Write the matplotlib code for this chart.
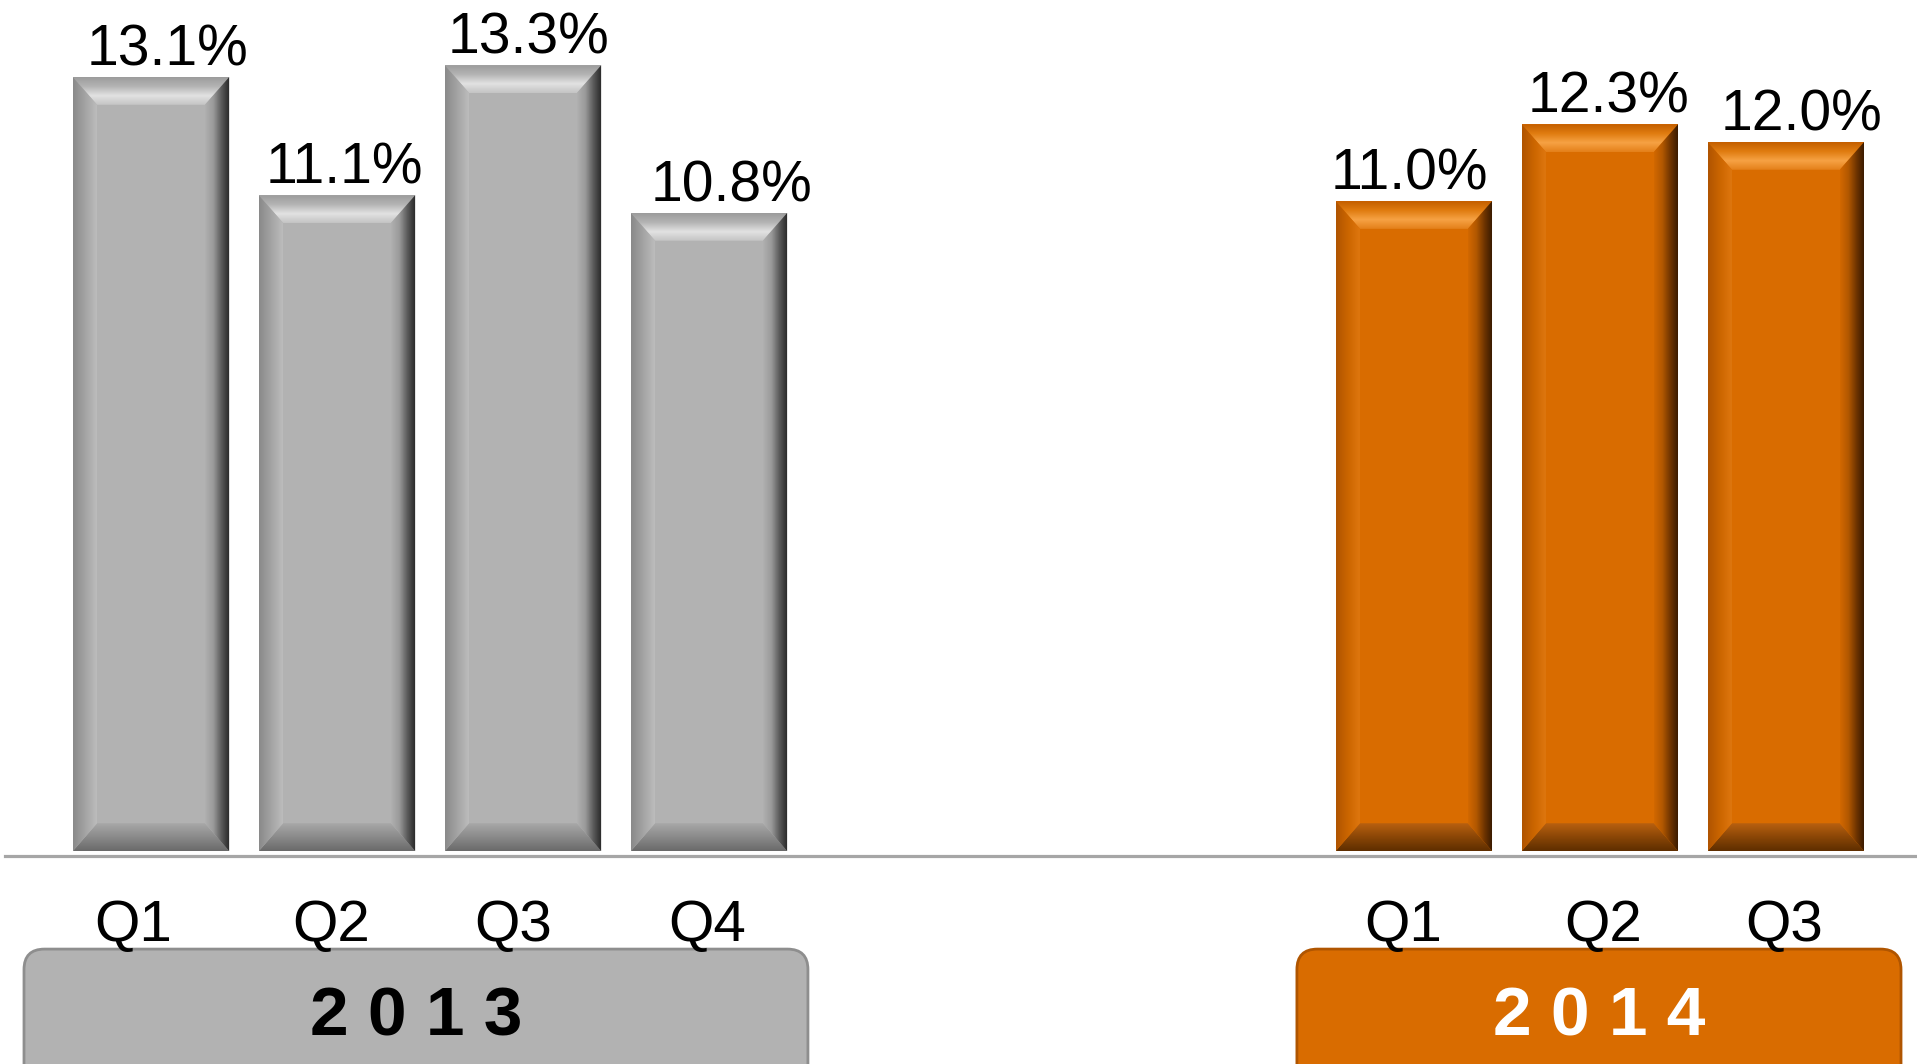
import numpy as np
import matplotlib.pyplot as plt
from matplotlib.colors import LinearSegmentedColormap
from matplotlib.patches import Polygon, FancyBboxPatch

plt.rcParams['font.family'] = ['Liberation Sans', 'DejaVu Sans']

# data
quarters_2013 = ['Q1', 'Q2', 'Q3', 'Q4']
values_2013 = [13.1, 11.1, 13.3, 10.8]
quarters_2014 = ['Q1', 'Q2', 'Q3']
values_2014 = [11.0, 12.3, 12.0]
years = ['2013', '2014']

# small horizontal nudges of the labels (points), as in the original slide
value_dx_2013 = [12, 5, 4, 16]
value_dx_2014 = [-3, 6, 11]
quarter_dx_2013 = [-13, -4, -7, -1]
quarter_dx_2014 = [-8, 2, -1]

gray = '#B2B2B2'
orange = '#D96C00'

# bevel colour ramps, outer edge -> inner edge
gray_bevel = {
    'top': ['#9c9c9c', '#b4b4b4', '#e2e2e2', '#c4c4c4'],
    'left': ['#8a8a8a', '#a4a4a4', '#bebebe'],
    'right': ['#262626', '#5a5a5a', '#9a9a9a', '#b0b0b0'],
    'bottom': ['#6a6a6a', '#8a8a8a', '#a8a8a8'],
}
orange_bevel = {
    'top': ['#c45f00', '#e07c10', '#f6a244', '#e4801a'],
    'left': ['#b05400', '#cc6600', '#e07810'],
    'right': ['#341800', '#6e3400', '#b25800', '#d26800'],
    'bottom': ['#5e2e00', '#8a4606', '#b86010'],
}

fig = plt.figure(figsize=(19.17, 10.64), dpi=100)
ax = fig.add_axes([0, 0, 1, 1])
ax.axis('off')

x13 = np.arange(len(values_2013))
x14 = 6.79 + np.arange(len(values_2014))
width = 0.84
XLIM = (-0.812, 9.495)
YLIM = (-3.605, 14.404)
ax.set_xlim(*XLIM)
ax.set_ylim(*YLIM)

bx = 0.13   # bevel width in x units
by = 0.47   # bevel height in y units


def bevel(xc, h, ramps):
    x0, x1 = xc - width / 2, xc + width / 2
    n = 64
    t = np.linspace(0, 1, n)
    parts = [
        ('top', [(x0, h), (x1, h), (x1 - bx, h - by), (x0 + bx, h - by)],
         t[::-1].reshape(-1, 1), (x0, x1, h - by, h)),
        ('bottom', [(x0, 0), (x1, 0), (x1 - bx, by), (x0 + bx, by)],
         t.reshape(-1, 1), (x0, x1, 0, by)),
        ('left', [(x0, 0), (x0 + bx, by), (x0 + bx, h - by), (x0, h)],
         t.reshape(1, -1), (x0, x0 + bx, 0, h)),
        ('right', [(x1, 0), (x1 - bx, by), (x1 - bx, h - by), (x1, h)],
         t[::-1].reshape(1, -1), (x1 - bx, x1, 0, h)),
    ]
    for name, pts, grad, ext in parts:
        cmap = LinearSegmentedColormap.from_list(name, ramps[name])
        im = ax.imshow(grad, cmap=cmap, extent=ext, origin='lower',
                       aspect='auto', interpolation='bilinear', zorder=3)
        poly = Polygon(pts, closed=True, transform=ax.transData)
        im.set_clip_path(poly)


ax.bar(x13, values_2013, width, color=gray, zorder=2)
ax.bar(x14, values_2014, width, color=orange, zorder=2)
for x, v in zip(x13, values_2013):
    bevel(x, v, gray_bevel)
for x, v in zip(x14, values_2014):
    bevel(x, v, orange_bevel)

ax.set_xlim(*XLIM)
ax.set_ylim(*YLIM)

# value labels
for xs, vals, dxs in [(x13, values_2013, value_dx_2013), (x14, values_2014, value_dx_2014)]:
    for x, v, dx in zip(xs, vals, dxs):
        ax.annotate(f'{v:.1f}%', (x, v), xytext=(dx, 8.5), textcoords='offset points',
                    ha='center', va='baseline', fontsize=41, color='black')

# baseline
ax.axhline(-0.085, xmin=5 / 1917, xmax=1, color='#A6A6A6', lw=2.3, zorder=1)

# quarter labels
for xs, qs, dxs in [(x13, quarters_2013, quarter_dx_2013), (x14, quarters_2014, quarter_dx_2014)]:
    for x, q, dx in zip(xs, qs, dxs):
        ax.annotate(q, (x, -1.52), xytext=(dx, 0), textcoords='offset points',
                    ha='center', va='baseline', fontsize=42, color='black')

# year boxes
asp = (1 / 59.08) / (1 / 186.0)
box_top = -1.66
box_bottom = -4.2
boxes = [
    (x13[0] - width / 2 - 0.263, x13[-1] + width / 2 + 0.112, gray, '#8e8e8e', 'black'),
    (x14[0] - width / 2 - 0.209, x14[-1] + width / 2 + 0.199, orange, '#b05500', 'white'),
]
for year, (xl, xr, fc, ec, tc) in zip(years, boxes):
    box = FancyBboxPatch((xl, box_bottom), xr - xl, box_top - box_bottom,
                         boxstyle='round,pad=0,rounding_size=0.11',
                         mutation_aspect=asp, fc=fc, ec=ec, lw=2, zorder=2)
    ax.add_patch(box)
    ax.text((xl + xr) / 2, -3.115, ' '.join(year), ha='center', va='baseline',
            fontsize=50, fontweight='bold', color=tc, zorder=4)

fig.savefig('out.png', dpi=100)
